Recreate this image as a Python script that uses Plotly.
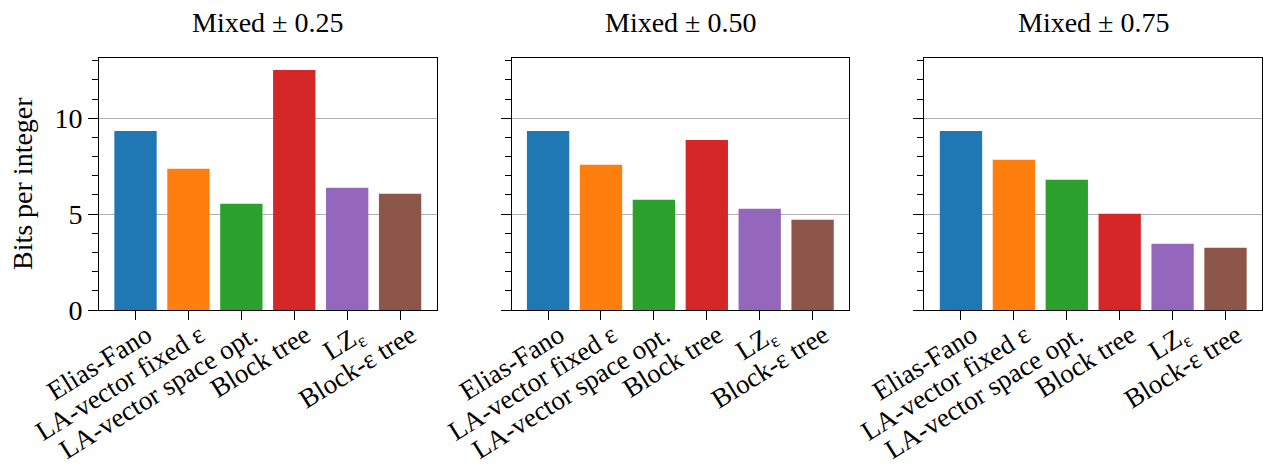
import plotly.graph_objects as go

categories = ["Elias-Fano", "LA-vector fixed ε", "LA-vector space opt.",
              "Block tree", "LZ<sub>ε</sub>", "Block-ε tree"]
titles = ["Mixed ± 0.25", "Mixed ± 0.50", "Mixed ± 0.75"]
values_025 = [9.34, 7.36, 5.54, 12.52, 6.37, 6.06]
values_050 = [9.34, 7.57, 5.75, 8.87, 5.28, 4.70]
values_075 = [9.34, 7.83, 6.79, 5.02, 3.45, 3.24]
series = [values_025, values_050, values_075]
colors = ["#1f77b4", "#ff7f0e", "#2ca02c", "#d62728", "#9467bd", "#8c564b"]
y_ticks = [0, 5, 10]

FONT = "Liberation Serif"
FS = 28
FSX = 27

W, H = 1267, 467
ml, mr, mt, mb = 99, 4.7, 58, 156.7
pw = W - ml - mr
ph = H - mt - mb
domains = [(0.0, 337.7 / pw), ((511.7 - ml) / pw, (849.3 - ml) / pw),
           ((924.7 - ml) / pw, 1.0)]

fig = go.Figure()
for i, vals in enumerate(series):
    xa = "x" if i == 0 else f"x{i+1}"
    ya = "y" if i == 0 else f"y{i+1}"
    fig.add_trace(go.Bar(x=categories, y=vals, marker=dict(color=colors, line=dict(width=0)),
                         width=0.8, xaxis=xa, yaxis=ya, showlegend=False))
    axsuffix = "" if i == 0 else str(i + 1)
    fig.update_layout(**{
        f"xaxis{axsuffix}": dict(
            domain=list(domains[i]), range=[-0.69, 5.69], anchor=ya,
            showline=True, linecolor="black", linewidth=1, mirror=True,
            ticks="outside", ticklen=9, tickcolor="black", tickwidth=1,
            tickangle=-32, tickfont=dict(family=FONT, size=FSX, color="black"),
            ticklabelstandoff=-11, ticklabelshift=11,
            showgrid=False, zeroline=False),
        f"yaxis{axsuffix}": dict(
            domain=[0, 1], range=[0, 13.14], anchor=xa,
            showline=True, linecolor="black", linewidth=1, mirror=True,
            tickvals=y_ticks, ticks="outside", ticklen=10, tickcolor="black", tickwidth=1,
            showticklabels=(i == 0),
            tickfont=dict(family=FONT, size=FS, color="black"),
            showgrid=True, gridcolor="#b0b0b0", gridwidth=1, zeroline=False,
            minor=dict(dtick=1, tick0=0, ticks="outside", ticklen=6,
                       tickcolor="black", tickwidth=1, showgrid=False)),
    })
    fig.add_annotation(x=(domains[i][0] + domains[i][1]) / 2, y=1 + (mt - 22) / ph,
                       xref="paper", yref="paper", text=titles[i], showarrow=False,
                       xanchor="center", yanchor="middle",
                       font=dict(family=FONT, size=FS, color="black"))

fig.add_annotation(x=(22 - ml) / pw, y=0.5, xref="paper", yref="paper",
                   text="Bits per integer", textangle=-90, showarrow=False,
                   xanchor="center", yanchor="middle",
                   font=dict(family=FONT, size=FS, color="black"))

fig.update_layout(width=W, height=H, margin=dict(l=ml, r=mr, t=mt, b=mb, autoexpand=False),
                  plot_bgcolor="white", paper_bgcolor="white", bargap=0.2)
fig.write_html("out.html")
